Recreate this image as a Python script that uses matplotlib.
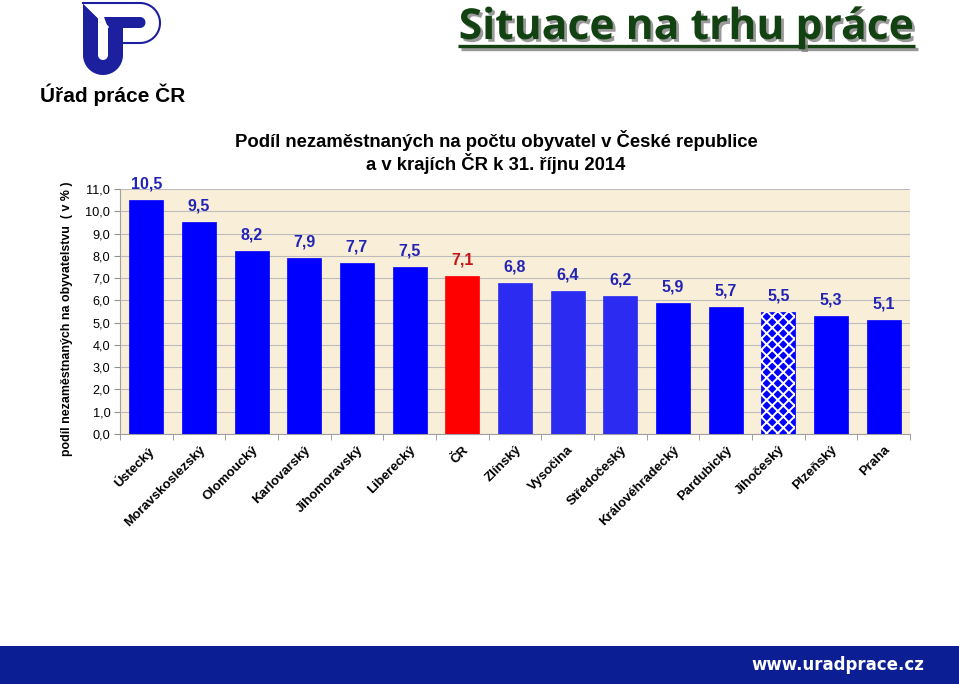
import matplotlib
matplotlib.use("Agg")
import matplotlib.pyplot as plt
import matplotlib.patheffects as pe
from matplotlib.patches import Polygon, Rectangle
import numpy as np

# ---------------- data ----------------
categories = ["Ústecký", "Moravskoslezský", "Olomoucký", "Karlovarský", "Jihomoravský",
              "Liberecký", "ČR", "Zlínský", "Vysočina", "Středočeský", "Královéhradecký",
              "Pardubický", "Jihočeský", "Plzeňský", "Praha"]
values = [10.5, 9.5, 8.2, 7.9, 7.7, 7.5, 7.1, 6.8, 6.4, 6.2, 5.9, 5.7, 5.5, 5.3, 5.1]
yticks = [0, 1, 2, 3, 4, 5, 6, 7, 8, 9, 10, 11]
title = "Podíl nezaměstnaných na počtu obyvatel v České republice\na v krajích ČR k 31. říjnu 2014"
ylabel = "podíl nezaměstnaných na obyvatelstvu  ( v % )"

# ---------------- style ----------------
BLUE = "#0000ff"
LBLUE = "#2b2bf2"
RED = "#ff0000"
bar_colors = [BLUE, BLUE, BLUE, BLUE, BLUE, BLUE, RED, LBLUE, LBLUE, LBLUE, BLUE, BLUE, BLUE, BLUE, BLUE]
hatched = {"Jihočeský"}
label_colors = ["#c81414" if c == "ČR" else "#2424b4" for c in categories]

plt.rcParams['font.family'] = ['Liberation Sans', 'DejaVu Sans']
plt.rcParams['hatch.linewidth'] = 1.4

W, H = 959, 684
fig = plt.figure(figsize=(W / 100, H / 100), dpi=100)
fig.patch.set_facecolor("white")

# overlay axes in pixel coordinates for header / footer / logo
ov = fig.add_axes([0, 0, 1, 1])
ov.set_xlim(0, W)
ov.set_ylim(H, 0)
ov.axis("off")

# footer band
ov.add_patch(Rectangle((0, 646), W, 38, facecolor="#0b1e93", edgecolor="none"))
ov.text(838, 665, "www.uradprace.cz", color="white", fontsize=12, fontweight="bold",
        family="DejaVu Sans", ha="center", va="center")

# header title
green = "#124212"
shadow = [pe.SimplePatchShadow(offset=(2, -2), shadow_rgbFace="#808080", alpha=0.8), pe.Normal()]
ov.text(686.5, 39, "Situace na trhu práce", fontsize=30.7, fontweight="bold", family="Open Sans",
        color=green, ha="center", va="baseline", path_effects=shadow)
ov.plot([458, 915], [46, 46], color=green, lw=2.4, solid_capstyle="butt",
        path_effects=[pe.SimpleLineShadow(offset=(2, -2), shadow_color="#808080", alpha=0.8), pe.Normal()])

# logo
LOGO = "#1c1f9e"
left_arm = [(83, 3), (98, 18), (98, 55), (83, 55)]
ov.add_patch(Polygon(left_arm, closed=True, facecolor=LOGO, edgecolor="none"))
theta = np.linspace(np.pi, 0, 40)
outer = [(103 + 20 * np.cos(t), 55 + 20 * np.sin(t)) for t in theta]
inner = [(103 + 5 * np.cos(t), 55 + 5 * np.sin(t)) for t in theta[::-1]]
ov.add_patch(Polygon(outer + inner, closed=True, facecolor=LOGO, edgecolor="none"))
ov.add_patch(Polygon([(108, 17), (123, 17), (123, 55), (108, 55)], closed=True,
                     facecolor=LOGO, edgecolor="none"))
bar_pts = [(104, 17), (140, 17)] + \
          [(140 + 5.5 * np.cos(t), 22.5 - 5.5 * np.sin(t)) for t in np.linspace(np.pi / 2, -np.pi / 2, 20)] + \
          [(140, 28), (108, 28)]
ov.add_patch(Polygon(bar_pts, closed=True, facecolor=LOGO, edgecolor="none"))
ov.plot([84, 108], [3.5, 27], color="white", lw=1.2)
bowl = [(83, 3), (140, 3)] + \
       [(140 + 20 * np.cos(t), 23 - 20 * np.sin(t)) for t in np.linspace(np.pi / 2, -np.pi / 2, 40)] + \
       [(123, 43)]
bx, by = zip(*bowl)
ov.plot(bx, by, color=LOGO, lw=1.5)
ov.text(113, 95, "Úřad práce ČR", fontsize=15, fontweight="bold", color="black",
        ha="center", va="center")

# ---------------- chart ----------------
x0, x1, yb, yt = 120, 910, 434, 189
ax = fig.add_axes([x0 / W, 1 - yb / H, (x1 - x0) / W, (yb - yt) / H])
ax.set_facecolor("#f9eed8")

x = np.arange(len(categories))
bars = ax.bar(x, values, width=0.65, color=bar_colors, edgecolor=bar_colors, linewidth=0.5, zorder=3)
for b, c in zip(bars, categories):
    if c in hatched:
        ax.bar(b.get_x() + b.get_width() / 2, b.get_height(), width=b.get_width(),
               facecolor="none", edgecolor="white", hatch="xxx", linewidth=0, zorder=4)

for xi, v, lc in zip(x, values, label_colors):
    ax.annotate(f"{v:.1f}".replace(".", ","), (xi, v), xytext=(0, 11.5), textcoords="offset points",
                ha="center", va="center", fontsize=11.5, fontweight="bold", color=lc, zorder=5)

ax.set_xlim(-0.5, len(categories) - 0.5)
ax.set_ylim(0, 11)
ax.set_yticks(yticks)
ax.set_yticklabels([f"{t:.1f}".replace(".", ",") for t in yticks], fontsize=9.2)
ax.yaxis.grid(True, color="#bcbcbc", lw=0.8, zorder=0)
ax.set_axisbelow(True)

ax.set_xticks(x)
ax.set_xticklabels(categories, rotation=45, ha="right", va="top", rotation_mode="anchor",
                   fontsize=9.5, fontweight="bold")
ax.tick_params(axis="x", which="major", length=0, pad=7)
ax.set_xticks(np.arange(-0.5, len(categories) + 0.5, 1), minor=True)
ax.tick_params(axis="x", which="minor", length=4, color="#909090")
ax.tick_params(axis="y", length=4, color="#909090", pad=3)

for s in ["top", "right"]:
    ax.spines[s].set_visible(False)
for s in ["left", "bottom"]:
    ax.spines[s].set_color("#a0a0a0")
    ax.spines[s].set_linewidth(0.8)

ax.set_ylabel(ylabel, fontsize=8.9, fontweight="bold")
ax.yaxis.set_label_coords(-0.06, 0.47)

fig.text(496 / W, 1 - 152 / H, title, ha="center", va="center", fontsize=13.3,
         fontweight="bold", linespacing=1.15)

fig.savefig("out.png", dpi=100, facecolor="white")
